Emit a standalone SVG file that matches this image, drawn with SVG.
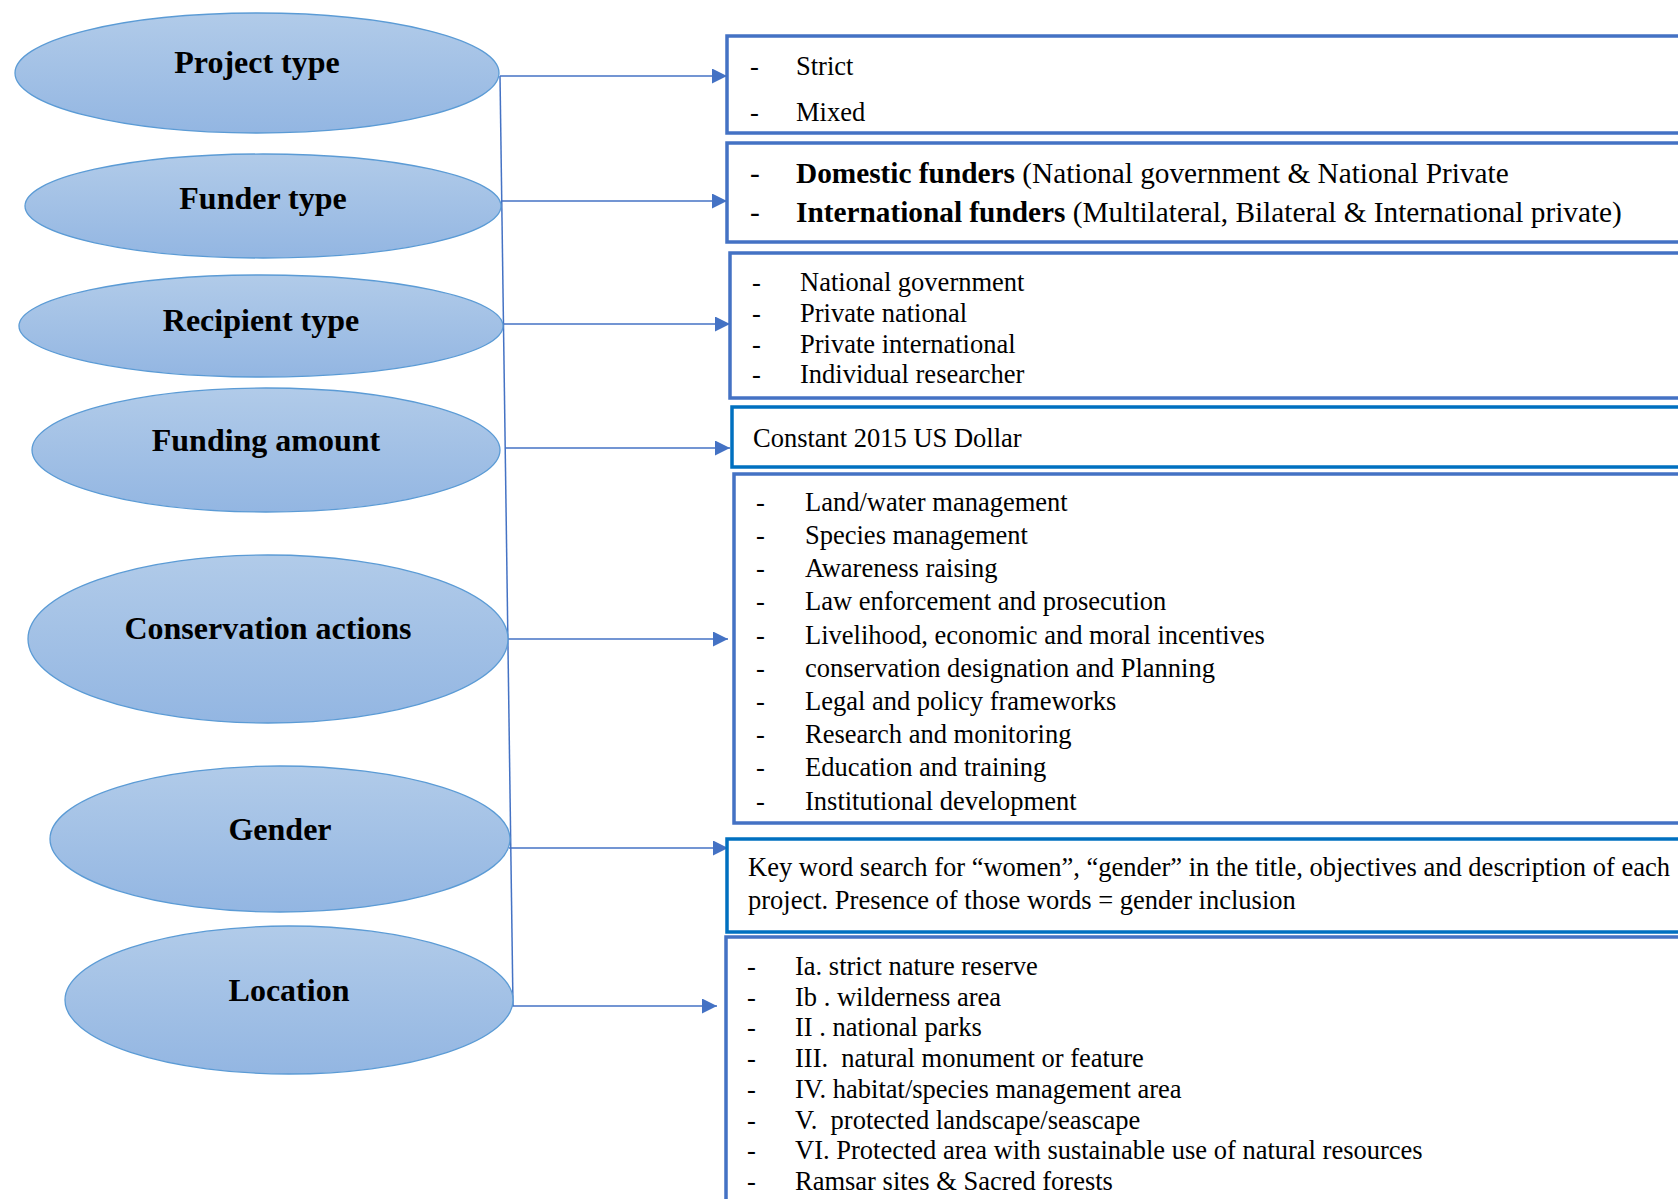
<svg xmlns="http://www.w3.org/2000/svg" width="1678" height="1199" viewBox="0 0 1678 1199">
<style>
.ell{fill:url(#eg);stroke:#5B9BD5;stroke-width:1.3}
.et{font-family:"Liberation Serif","Times New Roman",serif;font-weight:bold;font-size:32px;fill:#000;text-anchor:middle}
.box{fill:#fff;stroke:#4472C4;stroke-width:3.5}
.box2{fill:#fff;stroke:#0070C0;stroke-width:3.5}
.t{font-family:"Liberation Serif","Times New Roman",serif;font-size:26.5px;fill:#000}
.t28{font-family:"Liberation Serif","Times New Roman",serif;font-size:29.3px;fill:#000}
.b{font-weight:bold}
.con{stroke:#4472C4;stroke-width:1.5;fill:none}
.arr{stroke:#4472C4;stroke-width:1.5;fill:none;marker-end:url(#ah)}
</style>
<defs>
<linearGradient id="eg" x1="0" y1="0" x2="0" y2="1">
<stop offset="0" stop-color="#B1CBE9"/>
<stop offset="1" stop-color="#93B6E2"/>
</linearGradient>
<marker id="ah" markerUnits="userSpaceOnUse" viewBox="0 0 10 10" markerWidth="16" markerHeight="15" refX="10" refY="5" orient="auto">
<path d="M0,0 L10,5 L0,10 z" fill="#4472C4"/>
</marker>
</defs>
<rect width="1678" height="1199" fill="#fff"/>

<g id="connectors">
<line class="con" x1="500" y1="76" x2="513" y2="1006"/>
<line class="arr" x1="500" y1="76" x2="727" y2="76"/>
<line class="arr" x1="501" y1="201" x2="727" y2="201"/>
<line class="arr" x1="503" y1="324" x2="730" y2="324"/>
<line class="arr" x1="505" y1="448" x2="730" y2="448"/>
<line class="arr" x1="508" y1="639" x2="728" y2="639"/>
<line class="arr" x1="509" y1="848" x2="728" y2="848"/>
<line class="arr" x1="511" y1="1006" x2="717" y2="1006"/>
</g>

<g id="n-project-type">
<ellipse class="ell" cx="257" cy="73" rx="242" ry="60"/>
<text class="et" x="257" y="73">Project type</text>
</g>
<g id="n-funder-type">
<ellipse class="ell" cx="263" cy="206" rx="238" ry="52"/>
<text class="et" x="263" y="209">Funder type</text>
</g>
<g id="n-recipient-type">
<ellipse class="ell" cx="261" cy="326" rx="242" ry="51"/>
<text class="et" x="261" y="331">Recipient type</text>
</g>
<g id="n-funding-amount">
<ellipse class="ell" cx="266" cy="450" rx="234" ry="62"/>
<text class="et" x="266" y="451">Funding amount</text>
</g>
<g id="n-conservation-actions">
<ellipse class="ell" cx="268" cy="639" rx="240" ry="84"/>
<text class="et" x="268" y="639">Conservation actions</text>
</g>
<g id="n-gender">
<ellipse class="ell" cx="280" cy="839" rx="230" ry="73"/>
<text class="et" x="280" y="840">Gender</text>
</g>
<g id="n-location">
<ellipse class="ell" cx="289" cy="1000" rx="224" ry="74"/>
<text class="et" x="289" y="1001">Location</text>
</g>

<g id="b-project-type">
<rect class="box" x="727" y="36" width="1000" height="97"/>
<text class="t" x="750" y="74.5">-</text><text class="t" x="796" y="74.5">Strict</text>
<text class="t" x="750" y="120.5">-</text><text class="t" x="796" y="120.5">Mixed</text>
</g>
<g id="b-funder-type">
<rect class="box" x="727" y="143" width="1000" height="99"/>
<text class="t28" x="750" y="183">-</text><text class="t28" x="796" y="183"><tspan class="b">Domestic funders</tspan> (National government &amp; National Private</text>
<text class="t28" x="750" y="222">-</text><text class="t28" x="796" y="222"><tspan class="b">International funders</tspan> (Multilateral, Bilateral &amp; International private)</text>
</g>
<g id="b-recipient-type">
<rect class="box" x="730" y="253" width="1000" height="145"/>
<text class="t" x="752" y="290.5">-</text><text class="t" x="800" y="290.5">National government</text>
<text class="t" x="752" y="321.5">-</text><text class="t" x="800" y="321.5">Private national</text>
<text class="t" x="752" y="352.5">-</text><text class="t" x="800" y="352.5">Private international</text>
<text class="t" x="752" y="382.5">-</text><text class="t" x="800" y="382.5">Individual researcher</text>
</g>
<g id="b-funding-amount">
<rect class="box2" x="732" y="407" width="1000" height="60"/>
<text class="t" x="753" y="446.5">Constant 2015 US Dollar</text>
</g>
<g id="b-conservation-actions">
<rect class="box" x="734" y="474" width="1000" height="349"/>
<g class="t">
<text x="756" y="510.5">-</text><text x="805" y="510.5">Land/water management</text>
<text x="756" y="543.5">-</text><text x="805" y="543.5">Species management</text>
<text x="756" y="576.5">-</text><text x="805" y="576.5">Awareness raising</text>
<text x="756" y="609.5">-</text><text x="805" y="609.5">Law enforcement and prosecution</text>
<text x="756" y="643.5">-</text><text x="805" y="643.5">Livelihood, economic and moral incentives</text>
<text x="756" y="676.5">-</text><text x="805" y="676.5">conservation designation and Planning</text>
<text x="756" y="709.5">-</text><text x="805" y="709.5">Legal and policy frameworks</text>
<text x="756" y="742.5">-</text><text x="805" y="742.5">Research and monitoring</text>
<text x="756" y="775.5">-</text><text x="805" y="775.5">Education and training</text>
<text x="756" y="809.5">-</text><text x="805" y="809.5">Institutional development</text>
</g>
</g>
<g id="b-gender">
<rect class="box2" x="727" y="839" width="1000" height="93"/>
<text class="t" x="748" y="875.5">Key word search for “women”, “gender” in the title, objectives and description of each</text>
<text class="t" x="748" y="908.5">project. Presence of those words = gender inclusion</text>
</g>
<g id="b-location">
<rect class="box" x="726" y="937" width="1000" height="300"/>
<g class="t">
<text x="747" y="974.5">-</text><text x="795" y="974.5">Ia. strict nature reserve</text>
<text x="747" y="1005.5">-</text><text x="795" y="1005.5">Ib . wilderness area</text>
<text x="747" y="1035.5">-</text><text x="795" y="1035.5">II . national parks</text>
<text x="747" y="1066.5">-</text><text x="795" y="1066.5">III.&#160; natural monument or feature</text>
<text x="747" y="1097.5">-</text><text x="795" y="1097.5">IV. habitat/species management area</text>
<text x="747" y="1128.5">-</text><text x="795" y="1128.5">V.&#160; protected landscape/seascape</text>
<text x="747" y="1158.5">-</text><text x="795" y="1158.5">VI. Protected area with sustainable use of natural resources</text>
<text x="747" y="1189.5">-</text><text x="795" y="1189.5">Ramsar sites &amp; Sacred forests</text>
</g>
</g>
</svg>
